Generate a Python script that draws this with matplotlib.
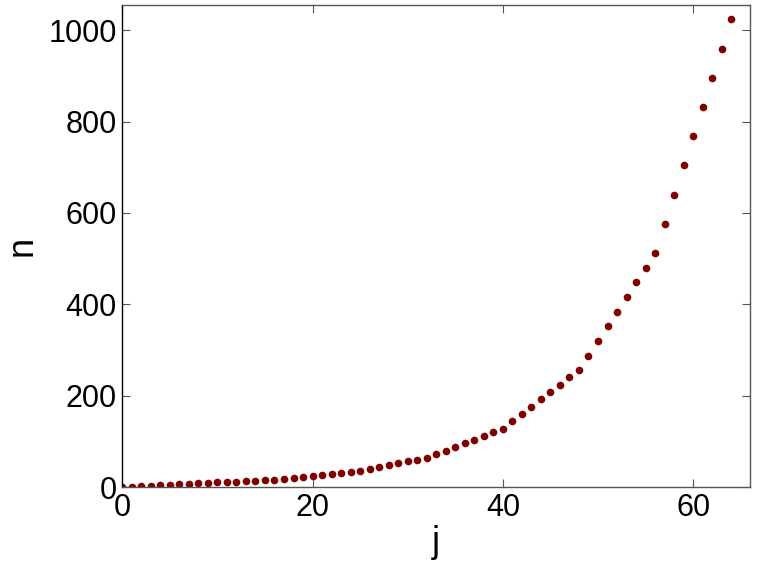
import matplotlib
matplotlib.use('Agg')
import matplotlib.pyplot as plt

# values
j = list(range(0, 65))
n = [0, 1, 2, 3, 4, 5, 6, 7, 8, 9, 10, 11, 12, 13, 14, 15, 16,
     18, 20, 22, 24, 26, 28, 30, 32,
     36, 40, 44, 48, 52, 56, 60, 64,
     72, 80, 88, 96, 104, 112, 120, 128,
     144, 160, 176, 192, 208, 224, 240, 256,
     288, 320, 352, 384, 416, 448, 480, 512,
     576, 640, 704, 768, 832, 896, 960, 1024]

xticks = [0, 20, 40, 60]
yticks = [0, 200, 400, 600, 800, 1000]

plt.rcParams['font.family'] = ['Liberation Sans', 'DejaVu Sans']

fig = plt.figure(figsize=(7.64, 5.73), dpi=100)
ax = fig.add_axes([0.160, 0.150, 0.822, 0.841])

ax.plot(j, n, 'o', color='#800000', markersize=5.5, markeredgewidth=0)

ax.set_xlim(0, 66)
ax.set_ylim(0, 1055)
ax.set_xticks(xticks)
ax.set_yticks(yticks)
ax.tick_params(direction='in', top=True, right=True, length=6,
               color='#555555', labelsize=22, pad=4)
for s in ax.spines.values():
    s.set_color('#555555')
    s.set_linewidth(1.0)
ax.spines['left'].set_color('black')

ax.set_xlabel('j', fontsize=26, labelpad=2)
ax.set_ylabel('n', fontsize=26, labelpad=6)

plt.savefig('out.png', dpi=100)
